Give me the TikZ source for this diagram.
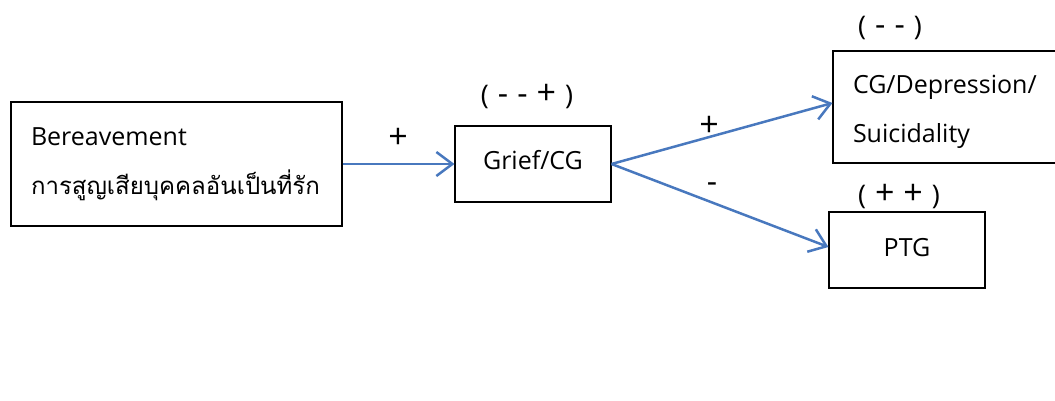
\documentclass[tikz,border=0pt]{standalone}
\usepackage{fontspec}
\setmainfont{Open Sans}
\newfontfamily\thaifont[Script=Thai,Scale=1.0]{Loma}
\usetikzlibrary{arrows.meta}
\definecolor{arrowblue}{RGB}{72,120,190}
\newcommand{\gp}{\hspace{9pt}}
\newcommand{\pl}{{\fontsize{34}{34}\selectfont +}}
\newcommand{\mi}{{\fontsize{32}{34}\selectfont -}}
\begin{document}
\begin{tikzpicture}[x=1pt,y=-1pt,
  box/.style={draw=black,line width=1.1pt,rectangle,inner sep=0pt,font=\fontsize{25}{49}\selectfont},
  lbl/.style={inner sep=0pt,font=\fontsize{27}{30}\selectfont},
  conn/.style={draw=arrowblue,line width=2.5pt,-{Straight Barb[length=16pt,width=24pt,line width=2.5pt]}}]
\useasboundingbox (0,0) rectangle (1055,400);
\clip (0,0) rectangle (1055,400);
\node[box,minimum width=331pt,minimum height=124pt,text width=291pt,align=left] (b1) at (176.5,164)
  {Bereavement\\ {\thaifont\fontsize{24}{49}\selectfont การสูญเสียบุคคลอันเป็นที่รัก}};
\node[box,minimum width=156pt,minimum height=76pt] (grief) at (533,164) {\rule[-8pt]{0pt}{8pt}Grief/CG};
\node[box,minimum width=240pt,minimum height=112pt,text width=200pt,align=left] (b3) at (953,107)
  {\rule{0pt}{27pt}CG/Depression/\\ Suicidality};
\node[box,minimum width=156pt,minimum height=76pt] (ptg) at (907,250) {\rule[-6pt]{0pt}{6pt}PTG};
\node[lbl] (l1) at (527,97) {(\gp\mi\gp\mi\gp\pl\gp)};
\node[lbl] (l3) at (890,28) {(\gp\mi\gp\mi\gp)};
\node[lbl] (l4) at (899,197) {(\gp\pl\gp\pl\gp)};
\draw[conn] (b1.east) -- (grief.west);
\draw[conn] (grief.east) -- ([yshift=4pt]b3.west);
\draw[conn] (grief.east) -- ([yshift=3pt]ptg.west);
\node[lbl] (p1) at (398,138) {\pl};
\node[lbl] (p2) at (709,126) {\pl};
\node[lbl] (m1) at (712,188) {\mi};
\end{tikzpicture}
\end{document}
